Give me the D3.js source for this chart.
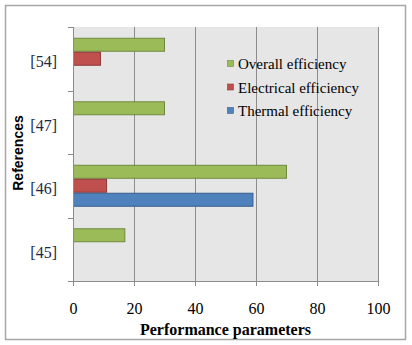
<!DOCTYPE html>
<html>
<head>
<meta charset="utf-8">
<script src="https://cdn.jsdelivr.net/npm/d3@7"></script>
<style>
  body { margin: 0; background: #fff; }
  svg { display: block; }
</style>
</head>
<body>
<script>
// categories, top to bottom as drawn
const refs = ["[54]", "[47]", "[46]", "[45]"];
const seriesNames = ["Overall efficiency", "Electrical efficiency", "Thermal efficiency"];
// values per reference (null = no bar)
const overall = [30, 30, 70, 17];
const electrical = [9, null, 11, null];
const thermal = [null, null, 59, null];
const xTicks = [0, 20, 40, 60, 80, 100];

const fills = ["#9BBB59", "#C0504D", "#4F81BD"];
const strokes = ["#71893F", "#8C3836", "#385D8A"];
const SERIF = "Times";
const SANS = "'Liberation Sans'";

const W = 412, H = 345;
const svg = d3.select("body").append("svg").attr("width", W).attr("height", H);

// outer frame
svg.append("rect")
    .attr("x", 5.5).attr("y", 5.5)
    .attr("width", 400).attr("height", 334)
    .attr("fill", "#fff").attr("stroke", "#a6a6a6").attr("stroke-width", 1.5);

const x = d3.scaleLinear().domain([0, 100]).range([73, 378]);
const y = d3.scaleBand().domain(refs).range([27, 281]);
const yIn = d3.scaleBand().domain(seriesNames).range([0, y.bandwidth()])
    .paddingInner(0).paddingOuter(0.77);

// plot background
svg.append("rect")
    .attr("x", x(0)).attr("y", 27)
    .attr("width", x(100) - x(0)).attr("height", 254)
    .attr("fill", "#E6E6E6");

// gridlines
svg.selectAll("line.grid").data(xTicks.slice(1)).enter().append("line")
    .attr("class", "grid")
    .attr("x1", d => Math.round(x(d)) + 0.5).attr("x2", d => Math.round(x(d)) + 0.5)
    .attr("y1", 27).attr("y2", 281)
    .attr("stroke", "#8c8c8c").attr("stroke-width", 1);

// bars
const table = [];
refs.forEach((r, i) => {
    [overall, electrical, thermal].forEach((arr, s) => {
        if (arr[i] != null) table.push({ ref: r, s: s, v: arr[i] });
    });
});

svg.selectAll("rect.bar").data(table).enter().append("rect")
    .attr("class", "bar")
    .attr("x", x(0) + 0.5)
    .attr("y", d => y(d.ref) + yIn(seriesNames[d.s]) + 0.5)
    .attr("width", d => x(d.v) - x(0) - 0.5)
    .attr("height", yIn.bandwidth() - 1)
    .attr("fill", d => fills[d.s])
    .attr("stroke", d => strokes[d.s])
    .attr("stroke-width", 1);

// x axis
const xAxis = svg.append("g")
    .attr("transform", "translate(0,281)")
    .call(d3.axisBottom(x).tickValues(xTicks).tickSize(5).tickPadding(17).tickSizeOuter(0));
xAxis.attr("font-family", null).attr("font-size", null);
xAxis.select(".domain").attr("stroke", "#8c8c8c");
xAxis.selectAll(".tick line").attr("stroke", "#8c8c8c");
xAxis.selectAll(".tick text")
    .style("font-family", SERIF)
    .style("font-size", "16px").attr("fill", "#000");

// y axis: ticks at category boundaries
svg.append("line")
    .attr("x1", x(0) + 0.5).attr("x2", x(0) + 0.5)
    .attr("y1", 27).attr("y2", 281)
    .attr("stroke", "#8c8c8c");
const bounds = refs.map(r => y(r)).concat([281]);
svg.selectAll("line.ytick").data(bounds).enter().append("line")
    .attr("class", "ytick")
    .attr("x1", 68).attr("x2", x(0))
    .attr("y1", d => Math.round(d) + 0.5).attr("y2", d => Math.round(d) + 0.5)
    .attr("stroke", "#8c8c8c");

svg.selectAll("text.ylab").data(refs).enter().append("text")
    .attr("class", "ylab")
    .attr("x", 57)
    .attr("y", d => y(d) + y.bandwidth() / 2 + 3)
    .attr("dy", "0.35em")
    .attr("text-anchor", "end")
    .style("font-family", SERIF)
    .style("font-size", "16px").attr("fill", "#1b2a48")
    .text(d => d);

// axis titles
svg.append("text")
    .attr("x", (x(0) + x(100)) / 2).attr("y", 335)
    .attr("text-anchor", "middle")
    .style("font-family", SERIF)
    .style("font-weight", "bold").style("font-size", "16px")
    .text("Performance parameters");

svg.append("text")
    .attr("transform", "translate(23,153) rotate(-90)")
    .attr("text-anchor", "middle")
    .style("font-family", SANS)
    .style("font-weight", "bold").style("font-size", "14px")
    .text("References");

// legend
const leg = svg.selectAll("g.leg").data(seriesNames).enter().append("g")
    .attr("class", "leg")
    .attr("transform", (d, i) => "translate(227," + (64 + i * 23.5) + ")");
leg.append("rect")
    .attr("x", 0.5).attr("y", -3.5).attr("width", 6).attr("height", 6)
    .attr("fill", (d, i) => fills[i])
    .attr("stroke", (d, i) => strokes[i]).attr("stroke-width", 0.6);
leg.append("text")
    .attr("x", 11).attr("y", 0).attr("dy", "0.35em")
    .style("font-family", SERIF)
    .style("font-size", "15px").attr("fill", "#000")
    .text(d => d);
</script>
</body>
</html>
